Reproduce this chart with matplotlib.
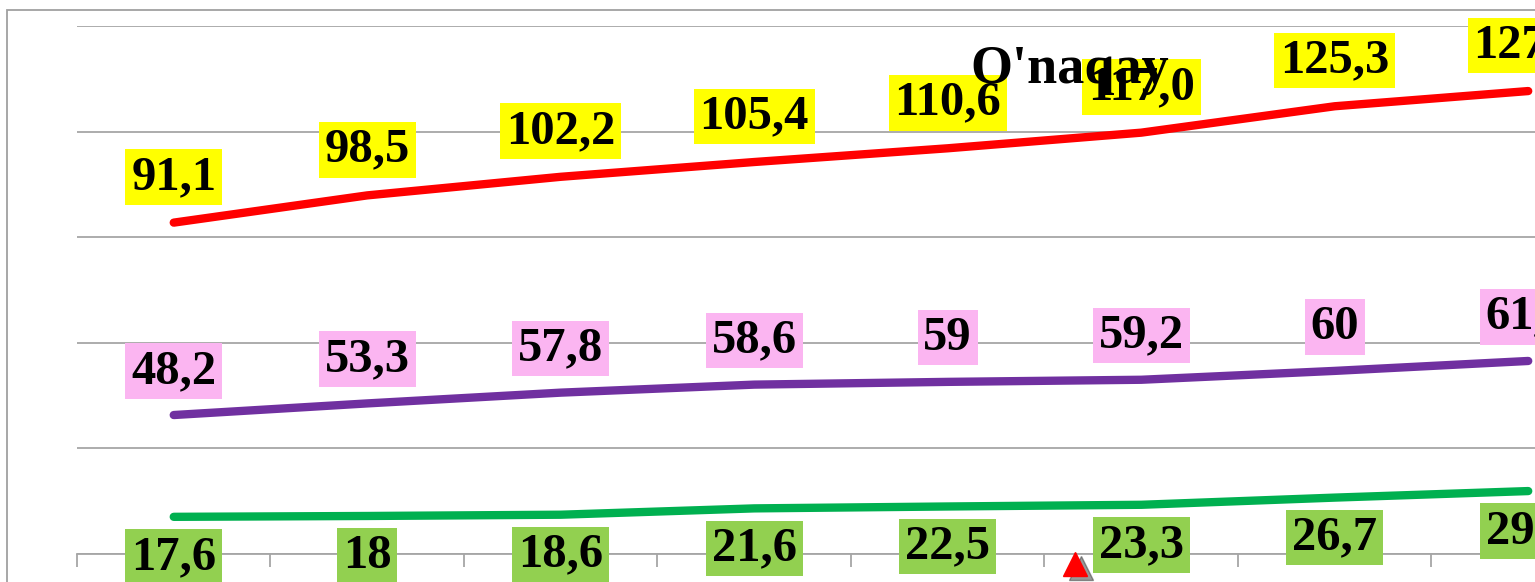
import matplotlib
matplotlib.use("Agg")
import matplotlib.pyplot as plt
import numpy as np
from matplotlib.patches import Rectangle

periods = ["1", "2", "3", "4", "5", "6", "7", "8"]
green_vals = [17.6, 18, 18.6, 21.6, 22.5, 23.3, 26.7, 29.8]
purple_vals = [48.2, 53.3, 57.8, 58.6, 59, 59.2, 60, 61.6]
red_vals = [91.1, 98.5, 102.2, 105.4, 110.6, 117.0, 125.3, 127.8]
title_text = "O'naqay"

plt.rcParams['font.family'] = ['Liberation Serif', 'DejaVu Serif']
plt.rcParams['hatch.color'] = '#e4e4e4'
plt.rcParams['hatch.linewidth'] = 1.6

fig = plt.figure(figsize=(15.35, 5.82), dpi=100)
fig.patch.set_facecolor('white')

# chart border (cropped on right and bottom)
fig.add_artist(Rectangle((7 / 1535, -0.2), 1.2, (582 - 10) / 582 + 0.2,
                         transform=fig.transFigure, fill=False,
                         edgecolor='#a0a0a0', linewidth=1.3))

ax = fig.add_axes([77 / 1535, 28 / 582, (1535 - 77) / 1535, 528 / 582])
ax.set_facecolor('white')
ax.add_patch(Rectangle((0, 0), 1, 1, transform=ax.transAxes, facecolor='white',
                       edgecolor='none', hatch='..', zorder=0))

x = np.arange(len(periods))
g = np.array(green_vals)
p = g + np.array(purple_vals)
r = p + np.array(red_vals)

ax.plot(x, g, color='#00b050', lw=6, solid_capstyle='round', zorder=3)
ax.plot(x, p, color='#7030a0', lw=6, solid_capstyle='round', zorder=3)
ax.plot(x, r, color='#ff0000', lw=6, solid_capstyle='round', zorder=3)


def fmt(v, keep_zero):
    s = "%.1f" % v
    if not keep_zero:
        s = s.rstrip('0').rstrip('.')
    return s.replace('.', ',')


def labels(ys, vals, box, offset, va, keep_zero=False):
    for xi, yi, v in zip(x, ys, vals):
        ax.annotate(fmt(v, keep_zero), (xi, yi), xytext=(0, offset), textcoords='offset points',
                    ha='center', va=va, fontsize=35, fontweight='bold', color='black',
                    bbox=dict(boxstyle='square,pad=0.12', facecolor=box, edgecolor='none'),
                    zorder=5, annotation_clip=False)


labels(r, red_vals, '#ffff00', 17, 'bottom', keep_zero=True)
labels(p, purple_vals, '#fbb5f1', 16, 'bottom')
labels(g, green_vals, '#92d050', -13, 'top')

ax.set_yticks([0, 50, 100, 150, 200, 250])
ax.set_xticks(np.arange(-0.5, len(periods), 1.0))
ax.set_ylim(0, 250)
ax.set_xlim(-0.5, 7.035)
ax.yaxis.grid(True, color='#a6a6a6', lw=1.3)
ax.set_axisbelow(True)
ax.tick_params(axis='y', left=False, labelleft=False)
ax.tick_params(axis='x', direction='out', length=9, width=1.3, color='#a6a6a6',
               labelbottom=False)
for side in ['left', 'right', 'top']:
    ax.spines[side].set_visible(False)
ax.spines['bottom'].set_color('#a6a6a6')
ax.spines['bottom'].set_linewidth(1.3)

fig.text(1070 / 1535, (582 - 83) / 582, title_text, ha='center', va='baseline',
         fontsize=39, fontweight='bold', color='black', zorder=10)

# small red triangle shape near the axis, with its shadow
fig.add_artist(plt.Line2D([1081 / 1535], [(582 - 568) / 582], marker='^', markersize=17,
                          color='#444444', alpha=0.55, linestyle='none',
                          transform=fig.transFigure))
fig.add_artist(plt.Line2D([1075 / 1535], [(582 - 564) / 582], marker='^', markersize=17,
                          color='#ff0000', linestyle='none', transform=fig.transFigure))

fig.savefig('out.png', dpi=100)
